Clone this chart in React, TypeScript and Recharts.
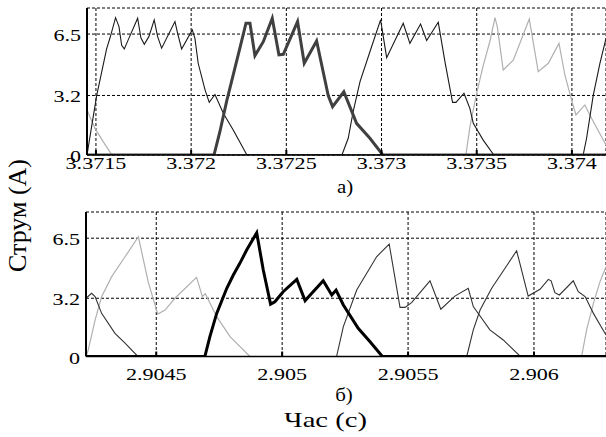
import React from 'react';
import { LineChart, Line, XAxis, YAxis, CartesianGrid } from 'recharts';

const FONT = '"Liberation Serif", "Times New Roman", serif';

// ---- tick values / labels ----
const topXTicks = [3.3715, 3.372, 3.3725, 3.373, 3.3735, 3.374];
const topXLabels = ['3.3715', '3.372', '3.3725', '3.373', '3.3735', '3.374'];
const topXDomain = [3.371453, 3.374179];
const botXTicks = [2.9045, 2.905, 2.9055, 2.906];
const botXLabels = ['2.9045', '2.905', '2.9055', '2.906'];
const botXDomain = [2.904221, 2.906286];
const yTicks = [0, 3.2, 6.5];
const yLabels = ['0', '3.2', '6.5'];

// ---- top plot (a) : [time s, current A] ----
const topPhase1: [number, number][] = [
  [3.371453, 0], [3.371504, 3.2], [3.371556, 5.7], [3.371574, 6.3], [3.371603, 7.38],
  [3.371621, 6.9], [3.371635, 5.9], [3.371649, 5.7], [3.37167, 6.2], [3.371719, 7.35],
  [3.371736, 6.3], [3.371754, 5.95], [3.371778, 6.36], [3.371806, 7.26], [3.371824, 6.36],
  [3.371845, 5.74], [3.371915, 7.17], [3.371929, 6.54], [3.37195, 5.7], [3.372006, 6.72],
  [3.37202, 6.27], [3.372037, 4.93], [3.372073, 3.5], [3.372095, 2.83], [3.372125, 3.25],
  [3.372169, 2.24], [3.372221, 1.34], [3.372293, 0], [3.374059, 0], [3.374077, 0.9],
  [3.374112, 3.2], [3.374147, 4.93], [3.374179, 6.27],
];
const topPhase2: [number, number][] = [
  [3.371453, 0], [3.37212, 0], [3.372151, 1.25], [3.372186, 2.87], [3.372221, 4.3],
  [3.372256, 5.74], [3.372288, 7.08], [3.372309, 7.08], [3.372335, 5.34], [3.372379, 6.09],
  [3.372426, 7.35], [3.372461, 5.38], [3.372484, 5.41], [3.372559, 7.17], [3.372594, 4.93],
  [3.372659, 6.13], [3.37272, 3.2], [3.372743, 2.6], [3.372802, 3.4], [3.372869, 1.7],
  [3.372939, 0.9], [3.373007, 0], [3.374179, 0],
];
const topPhase3: [number, number][] = [
  [3.371453, 0], [3.372792, 0], [3.372825, 0.9], [3.372851, 2.33], [3.372887, 3.94],
  [3.372939, 5.55], [3.372995, 7.26], [3.373027, 5.23], [3.373114, 7.08], [3.373149, 6.0],
  [3.373205, 7.04], [3.373237, 6.15], [3.373298, 7.13], [3.373333, 5.02], [3.373373, 2.83],
  [3.373391, 2.83], [3.373433, 3.32], [3.373464, 2.51], [3.373482, 1.7], [3.373534, 0.8],
  [3.37359, 0], [3.374179, 0],
];
const topPhase4: [number, number][] = [
  [3.371453, 2.42], [3.371495, 1.43], [3.371538, 0.72], [3.371584, 0], [3.373443, 0],
  [3.373464, 1.5], [3.373499, 3.3], [3.373534, 4.8], [3.373569, 6.1], [3.373596, 7.38],
  [3.373608, 6.9], [3.373639, 4.57], [3.373692, 5.1], [3.373776, 7.31], [3.373823, 4.48],
  [3.373876, 4.93], [3.373932, 6.0], [3.373963, 4.3], [3.373998, 2.96], [3.374021, 2.15],
  [3.374068, 2.69], [3.374103, 1.97], [3.374179, 0.54],
];

// ---- bottom plot (б) ----
const botPhase1: [number, number][] = [
  [2.904221, 0], [2.90423, 0.36], [2.904257, 2.0], [2.904283, 3.29], [2.904323, 4.39],
  [2.904376, 5.48], [2.904429, 6.58], [2.904468, 4.1], [2.904506, 2.33], [2.904535, 2.55],
  [2.904574, 3.2], [2.90466, 4.35], [2.904683, 3.3], [2.904695, 3.45], [2.90474, 2.19],
  [2.904793, 1.09], [2.904872, 0], [2.906189, 0], [2.906209, 1.46], [2.906236, 2.92],
  [2.906262, 4.1], [2.906286, 4.93],
];
const botPhase2: [number, number][] = [
  [2.904221, 0], [2.904693, 0], [2.904713, 1.09], [2.90474, 2.37], [2.90478, 3.75],
  [2.904806, 4.48], [2.904832, 5.12], [2.904859, 5.85], [2.904899, 6.8], [2.904925, 4.75],
  [2.904954, 2.88], [2.904971, 3.01], [2.905004, 3.56], [2.905058, 4.24], [2.905091, 3.07],
  [2.905163, 4.16], [2.905197, 3.38], [2.905214, 3.65], [2.905243, 2.83], [2.905302, 1.55],
  [2.905349, 0.81], [2.905398, 0], [2.906286, 0],
];
const botPhase3: [number, number][] = [
  [2.904221, 0], [2.905216, 0], [2.905243, 1.64], [2.905296, 3.65], [2.905375, 5.48],
  [2.905425, 6.18], [2.905468, 2.7], [2.905488, 2.7], [2.905514, 2.96], [2.905587, 4.16],
  [2.90563, 2.6], [2.905686, 3.32], [2.905739, 3.75], [2.905759, 2.74], [2.905825, 1.46],
  [2.905878, 0.91], [2.905946, 0], [2.906286, 0],
];
const botPhase4: [number, number][] = [
  [2.904221, 3.2], [2.904243, 3.47], [2.904257, 3.29], [2.904283, 2.37], [2.904336, 1.27],
  [2.904376, 0.73], [2.904427, 0], [2.905733, 0], [2.905759, 1.46], [2.905786, 2.55],
  [2.905832, 3.75], [2.905885, 4.85], [2.905931, 5.81], [2.905944, 5.12], [2.905977, 3.32],
  [2.906024, 3.69], [2.906057, 4.24], [2.906068, 4.16], [2.906083, 3.51], [2.906101, 3.38],
  [2.906156, 4.16], [2.906176, 3.56], [2.906203, 3.29], [2.906236, 2.37], [2.906286, 1.18],
];

const toRows = (pts: [number, number][]) => pts.map(([t, i]) => ({ t, i }));

const labelFor = (ticks: number[], labels: string[], v: number) => {
  const idx = ticks.findIndex((k) => Math.abs(k - v) < 1e-7);
  return idx >= 0 ? labels[idx] : String(v);
};

const makeXTick = (ticks: number[], labels: string[], dy: number) => (props: any) => {
  const { x, y, payload } = props;
  return (
    <g>
      <line x1={x} y1={y} x2={x} y2={y - 5} stroke="#000" strokeWidth={2} />
      <text
        transform={`translate(${x},${y + dy}) scale(1.3,1)`}
        textAnchor="middle"
        fontFamily={FONT}
        fontSize={17}
        fill="#000"
      >
        {labelFor(ticks, labels, payload.value)}
      </text>
    </g>
  );
};

const YTick = (props: any) => {
  const { x, y, payload } = props;
  return (
    <text
      transform={`translate(${x - 6},${y + 7}) scale(1.3,1)`}
      textAnchor="end"
      fontFamily={FONT}
      fontSize={17}
      fill="#000"
    >
      {labelFor(yTicks, yLabels, payload.value)}
    </text>
  );
};

const TopXTick = makeXTick(topXTicks, topXLabels, 13.5);
const BotXTick = makeXTick(botXTicks, botXLabels, 23.5);

export default function App() {
  return (
    <div style={{ position: 'absolute', left: 0, top: 0, width: 606, height: 437, background: '#fff', overflow: 'hidden' }}>
      <div style={{ position: 'absolute', left: 0, top: 0 }}>
        <LineChart width={606} height={200} margin={{ top: 8, right: 0, bottom: 0, left: 0 }}>
          <CartesianGrid stroke="#000" strokeDasharray="3 2" strokeWidth={1} />
          <XAxis
            type="number"
            dataKey="t"
            domain={topXDomain}
            allowDataOverflow
            ticks={topXTicks}
            interval={0}
            height={45}
            tickSize={0}
            tickMargin={0}
            tickLine={false}
            axisLine={{ stroke: '#000', strokeWidth: 1.5 }}
            tick={TopXTick}
          />
          <YAxis
            type="number"
            domain={[0, 7.9]}
            allowDataOverflow
            ticks={yTicks}
            interval={0}
            width={87}
            tickSize={0}
            tickMargin={0}
            tickLine={false}
            axisLine={{ stroke: '#000', strokeWidth: 2 }}
            tick={YTick}
          />
          <Line data={toRows(topPhase4)} dataKey="i" type="linear" stroke="#b0b0b0" strokeWidth={1.2} dot={false} isAnimationActive={false} />
          <Line data={toRows(topPhase1)} dataKey="i" type="linear" stroke="#1a1a1a" strokeWidth={1.1} dot={false} isAnimationActive={false} />
          <Line data={toRows(topPhase3)} dataKey="i" type="linear" stroke="#1a1a1a" strokeWidth={1.1} dot={false} isAnimationActive={false} />
          <Line data={toRows(topPhase2)} dataKey="i" type="linear" stroke="#404040" strokeWidth={3} dot={false} isAnimationActive={false} />
        </LineChart>
      </div>
      <div style={{ position: 'absolute', left: 0, top: 200 }}>
        <LineChart width={606} height={200} margin={{ top: 12, right: 0, bottom: 0, left: 0 }}>
          <CartesianGrid stroke="#000" strokeDasharray="3 2" strokeWidth={1} />
          <XAxis
            type="number"
            dataKey="t"
            domain={botXDomain}
            allowDataOverflow
            ticks={botXTicks}
            interval={0}
            height={43.5}
            tickSize={0}
            tickMargin={0}
            tickLine={false}
            axisLine={{ stroke: '#000', strokeWidth: 1.5 }}
            tick={BotXTick}
          />
          <YAxis
            type="number"
            domain={[0, 7.94]}
            allowDataOverflow
            ticks={yTicks}
            interval={0}
            width={86}
            tickSize={0}
            tickMargin={0}
            tickLine={false}
            axisLine={{ stroke: '#000', strokeWidth: 2 }}
            tick={YTick}
          />
          <Line data={toRows(botPhase1)} dataKey="i" type="linear" stroke="#b0b0b0" strokeWidth={1.2} dot={false} isAnimationActive={false} />
          <Line data={toRows(botPhase3)} dataKey="i" type="linear" stroke="#333333" strokeWidth={1.1} dot={false} isAnimationActive={false} />
          <Line data={toRows(botPhase4)} dataKey="i" type="linear" stroke="#333333" strokeWidth={1.1} dot={false} isAnimationActive={false} />
          <Line data={toRows(botPhase2)} dataKey="i" type="linear" stroke="#000000" strokeWidth={3} dot={false} isAnimationActive={false} />
        </LineChart>
      </div>
      <svg style={{ position: 'absolute', left: 0, top: 0, pointerEvents: 'none' }} width={606} height={437}>
        <text transform="translate(345,193) scale(1.1,1)" textAnchor="middle" fontFamily={FONT} fontSize={19} fill="#000">а)</text>
        <text transform="translate(344,401) scale(1.1,1)" textAnchor="middle" fontFamily={FONT} fontSize={19} fill="#000">б)</text>
        <text transform="translate(325.5,427) scale(1.3,1)" textAnchor="middle" fontFamily={FONT} fontSize={22} fill="#000">Час (с)</text>
        <text transform="translate(26,215.5) rotate(-90)" textAnchor="middle" fontFamily={FONT} fontSize={26} fill="#000">Струм (А)</text>
      </svg>
    </div>
  );
}
